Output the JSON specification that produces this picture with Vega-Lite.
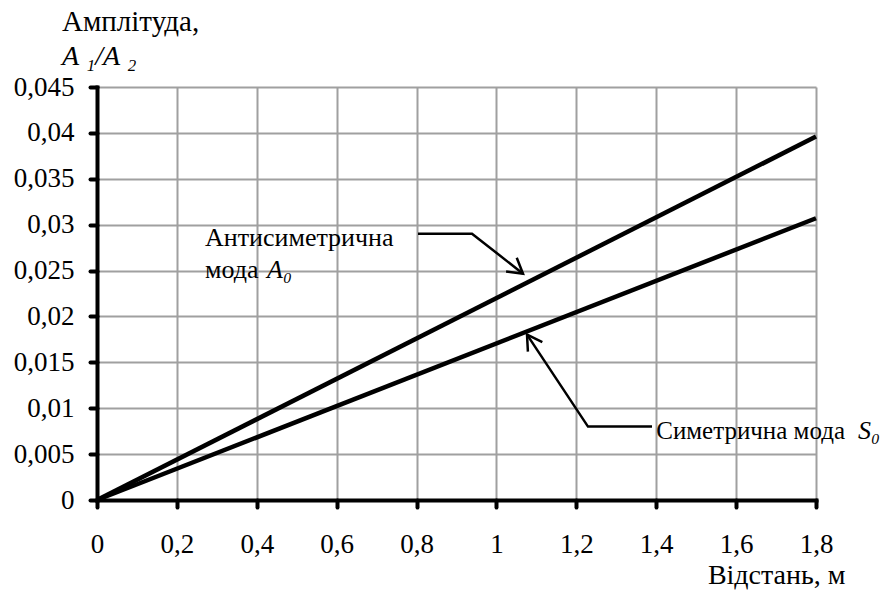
{
  "$schema": "https://vega.github.io/schema/vega-lite/v6.json",
  "width": 719,
  "height": 413,
  "autosize": {"type": "none"},
  "padding": {"left": 97, "top": 87, "right": 78, "bottom": 94},
  "background": "white",
  "config": {"view": {"stroke": null}, "font": "Liberation Serif, Times New Roman, serif"},
  "title": {
    "text": "Амплітуда,",
    "subtitle": "A ₁/A ₂",
    "anchor": "start",
    "frame": "group",
    "dx": -35,
    "offset": 2,
    "font": "Liberation Serif, Times New Roman, serif",
    "fontSize": 29,
    "fontWeight": "normal",
    "color": "black",
    "subtitleFont": "Liberation Serif, Times New Roman, serif",
    "subtitleFontSize": 28,
    "subtitleFontStyle": "italic",
    "subtitleColor": "black",
    "subtitlePadding": 6
  },
  "datasets": {
    "series": [
      {"mode": "A0", "x": 0, "y": 0},
      {"mode": "A0", "x": 1.8, "y": 0.0396},
      {"mode": "S0", "x": 0, "y": 0},
      {"mode": "S0", "x": 1.8, "y": 0.0307}
    ],
    "arrows": [
      {"g": "A", "o": 0, "x": 0.8036, "y": 0.02902},
      {"g": "A", "o": 1, "x": 0.9388, "y": 0.02902},
      {"g": "A", "o": 2, "x": 1.0665, "y": 0.02466},
      {"g": "S", "o": 0, "x": 1.3894, "y": 0.0080},
      {"g": "S", "o": 1, "x": 1.2292, "y": 0.0080},
      {"g": "S", "o": 2, "x": 1.0765, "y": 0.01802}
    ],
    "heads": [
      {"x": 1.0665, "y": 0.02466, "ang": 128},
      {"x": 1.0765, "y": 0.01802, "ang": 326.5}
    ],
    "leftText": [
      {"t": "Антисиметрична", "x": 0.2704, "y": 0.02771},
      {"t": "мода", "x": 0.2704, "y": 0.02423}
    ],
    "rightText": [
      {"t": "Симетрична мода", "x": 1.8726, "y": 0.00669}
    ],
    "italic": [
      {"t": "A₀", "x": 0.4256, "y": 0.02423},
      {"t": "S₀", "x": 1.9051, "y": 0.00669}
    ]
  },
  "encoding": {
    "x": {
      "field": "x",
      "type": "quantitative",
      "scale": {"domain": [0, 1.8], "nice": false, "zero": false},
      "axis": {
        "values": [0, 0.2, 0.4, 0.6, 0.8, 1, 1.2, 1.4, 1.6, 1.8],
        "labelExpr": "replace(format(datum.value, '~g'), '.', ',')",
        "labelFont": "Liberation Serif, Times New Roman, serif",
        "labelFontSize": 27,
        "labelColor": "black",
        "labelPadding": 24,
        "labelFlush": false,
        "labelOverlap": false,
        "tickSize": 7,
        "tickWidth": 4,
        "tickColor": "black",
        "tickCap": "round",
        "domainColor": "black",
        "domainWidth": 4,
        "domainCap": "square",
        "gridColor": "#a0a0a0",
        "gridWidth": 2,
        "title": "Відстань, м",
        "titleFont": "Liberation Serif, Times New Roman, serif",
        "titleFontSize": 28,
        "titleFontWeight": "normal",
        "titleColor": "black",
        "titleX": 748,
        "titleY": 83,
        "titleAlign": "right",
        "titleBaseline": "alphabetic",
        "titleAnchor": "end"
      }
    },
    "y": {
      "field": "y",
      "type": "quantitative",
      "scale": {"domain": [0, 0.045], "nice": false, "zero": false},
      "axis": {
        "values": [0, 0.005, 0.01, 0.015, 0.02, 0.025, 0.03, 0.035, 0.04, 0.045],
        "labelExpr": "replace(format(datum.value, '~g'), '.', ',')",
        "labelFont": "Liberation Serif, Times New Roman, serif",
        "labelFontSize": 27,
        "labelColor": "black",
        "labelPadding": 16,
        "labelFlush": false,
        "labelOverlap": false,
        "tickSize": 7,
        "tickWidth": 4,
        "tickColor": "black",
        "tickCap": "round",
        "domainColor": "black",
        "domainWidth": 4,
        "domainCap": "square",
        "gridColor": "#a0a0a0",
        "gridWidth": 2,
        "title": null
      }
    }
  },
  "layer": [
    {
      "data": {"name": "series"},
      "mark": {"type": "line", "color": "black", "strokeWidth": 4.5},
      "encoding": {"detail": {"field": "mode"}}
    },
    {
      "data": {"name": "arrows"},
      "mark": {"type": "line", "color": "black", "strokeWidth": 2.5},
      "encoding": {"detail": {"field": "g"}, "order": {"field": "o", "type": "quantitative"}}
    },
    {
      "data": {"name": "heads"},
      "mark": {"type": "point", "shape": "M-0.5,0.85L0,0L0.5,0.85", "filled": false, "stroke": "black", "strokeWidth": 2.5, "size": 1200, "opacity": 1},
      "encoding": {"angle": {"field": "ang", "type": "quantitative", "scale": null}}
    },
    {
      "data": {"name": "leftText"},
      "mark": {"type": "text", "align": "left", "baseline": "alphabetic", "font": "Liberation Serif, Times New Roman, serif", "fontSize": 26, "color": "black"},
      "encoding": {"text": {"field": "t"}}
    },
    {
      "data": {"name": "rightText"},
      "mark": {"type": "text", "align": "right", "baseline": "alphabetic", "font": "Liberation Serif, Times New Roman, serif", "fontSize": 25, "color": "black"},
      "encoding": {"text": {"field": "t"}}
    },
    {
      "data": {"name": "italic"},
      "mark": {"type": "text", "align": "left", "baseline": "alphabetic", "font": "Liberation Serif, Times New Roman, serif", "fontSize": 26, "fontStyle": "italic", "color": "black"},
      "encoding": {"text": {"field": "t"}}
    }
  ]
}
